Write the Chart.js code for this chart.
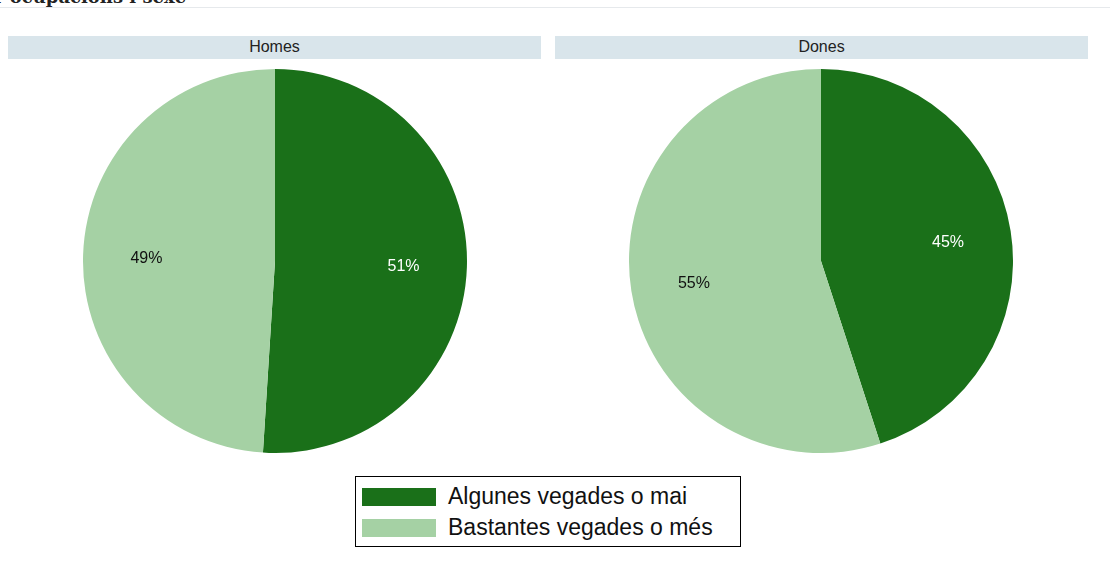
<!DOCTYPE html>
<html>
<head>
<meta charset="utf-8">
<script src="https://cdn.jsdelivr.net/npm/chart.js@4/dist/chart.umd.min.js"></script>
<style>
  body { margin: 0; background: #fff; width: 1110px; height: 570px; overflow: hidden; position: relative; font-family: Arial, "Liberation Sans", sans-serif; }
  #title { position: absolute; left: -6px; top: -14px; font: bold 18px "DejaVu Serif", serif; color: #222; white-space: nowrap; }
  #rule { position: absolute; left: 0; top: 7px; width: 1110px; height: 1px; background: #e6e9ec; }
  .strip { position: absolute; top: 36px; height: 23px; width: 533px; background: #d9e5eb; color: #222; font-size: 16px; text-align: center; line-height: 22px; }
  .pie { position: absolute; top: 69px; width: 384px; height: 384px; }
  #legend { position: absolute; left: 355px; top: 476px; width: 384px; height: 69px; border: 1px solid #000; background: #fff; }
  .item { position: absolute; left: 6px; height: 20px; font-size: 23px; color: #111; white-space: nowrap; }
  .item span { display: inline-block; width: 74px; height: 18px; vertical-align: top; margin-right: 12px; margin-top: 1px; }
  .item b { font-weight: normal; position: relative; top: -4px; }
</style>
</head>
<body>
<div id="title">r ocupacions i sexe</div>
<div id="rule"></div>
<div class="strip" style="left:8px">Homes</div>
<div class="strip" style="left:555px">Dones</div>
<div class="pie" style="left:83px"><canvas id="homes"></canvas></div>
<div class="pie" style="left:629px"><canvas id="dones"></canvas></div>
<div id="legend">
  <div class="item" style="top:10px"><span style="background:#1a7019"></span><b>Algunes vegades o mai</b></div>
  <div class="item" style="top:41px"><span style="background:#a5d1a4"></span><b>Bastantes vegades o més</b></div>
</div>
<script>
const categories = ['Algunes vegades o mai', 'Bastantes vegades o més'];
const homesValues = [51, 49];
const donesValues = [45, 55];
const sliceColors = ['#1a7019', '#a5d1a4'];
const labelColors = ['#ffffff', '#111111'];

// percentage labels placed at two thirds of the radius, on each slice's middle angle
const sliceLabels = {
  id: 'sliceLabels',
  afterDatasetsDraw(chart) {
    const ctx = chart.ctx;
    const meta = chart.getDatasetMeta(0);
    const values = chart.data.datasets[0].data;
    ctx.save();
    ctx.font = '16px Arial, "Liberation Sans", sans-serif';
    ctx.textAlign = 'center';
    ctx.textBaseline = 'middle';
    meta.data.forEach((arc, i) => {
      const mid = (arc.startAngle + arc.endAngle) / 2;
      const r = arc.outerRadius * 0.67;
      ctx.fillStyle = labelColors[i];
      ctx.fillText(values[i] + '%', arc.x + Math.cos(mid) * r, arc.y + Math.sin(mid) * r + 2);
    });
    ctx.restore();
  }
};

function makePie(id, values) {
  return new Chart(document.getElementById(id), {
    type: 'pie',
    data: {
      labels: categories,
      datasets: [{ data: values, backgroundColor: sliceColors, borderWidth: 0, hoverOffset: 0 }]
    },
    options: {
      responsive: true,
      maintainAspectRatio: false,
      animation: false,
      layout: { padding: 0 },
      plugins: { legend: { display: false }, tooltip: { enabled: false } }
    },
    plugins: [sliceLabels]
  });
}

makePie('homes', homesValues);
makePie('dones', donesValues);
</script>
</body>
</html>
